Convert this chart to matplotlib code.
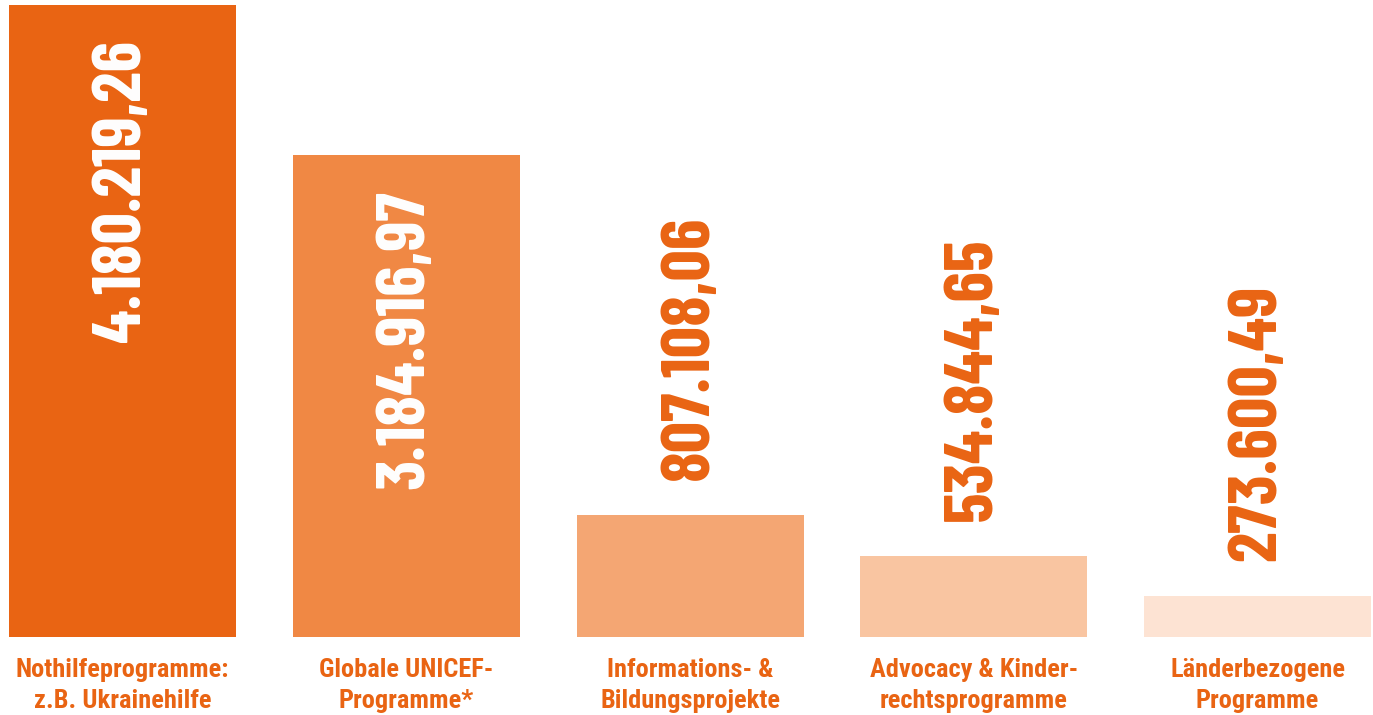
import matplotlib
matplotlib.use("Agg")
import matplotlib.pyplot as plt

categories = ["Nothilfeprogramme:\nz.B. Ukrainehilfe", "Globale UNICEF-\nProgramme*",
              "Informations- &\nBildungsprojekte", "Advocacy & Kinder-\nrechtsprogramme",
              "Länderbezogene\nProgramme"]
values = [4180219.26, 3184916.97, 807108.06, 534844.65, 273600.49]
value_labels = ["4.180.219,26", "3.184.916,97", "807.108,06", "534.844,65", "273.600,49"]
colors = ["#E96413", "#F08844", "#F4A673", "#F9C5A1", "#FDE3D3"]
inside = [True, True, False, False, False]

fam_val = ["Barlow Condensed", "Roboto Condensed", "DejaVu Sans"]
fam_lab = ["Roboto Condensed", "Barlow Condensed", "DejaVu Sans"]
orange = "#E96413"

fig = plt.figure(figsize=(13.73, 7.15), dpi=100)
ax = fig.add_axes([0, 1 - 637/715, 1, 632/715])
x = list(range(len(values)))
ax.bar(x, values, width=0.8, color=colors)
ax.set_xlim(-122.5/283.75, (1373-122.5)/283.75)
ax.set_ylim(0, values[0])
ax.axis("off")

pad = values[0] * 35/632
for i, (v, lab) in enumerate(zip(values, value_labels)):
    if inside[i]:
        ax.text(i, v - pad, lab, rotation=90, ha="center", va="top", color="white",
                fontsize=50, fontweight="bold", family=fam_val)
    else:
        ax.text(i, v + pad, lab, rotation=90, ha="center", va="bottom", color=orange,
                fontsize=50, fontweight="bold", family=fam_val)
    ax.text(i, -values[0]*21/632, categories[i], ha="center", va="top", color=orange,
            fontsize=19, fontweight="bold", family=fam_lab, linespacing=1.38)

fig.savefig("out.png", dpi=100)
